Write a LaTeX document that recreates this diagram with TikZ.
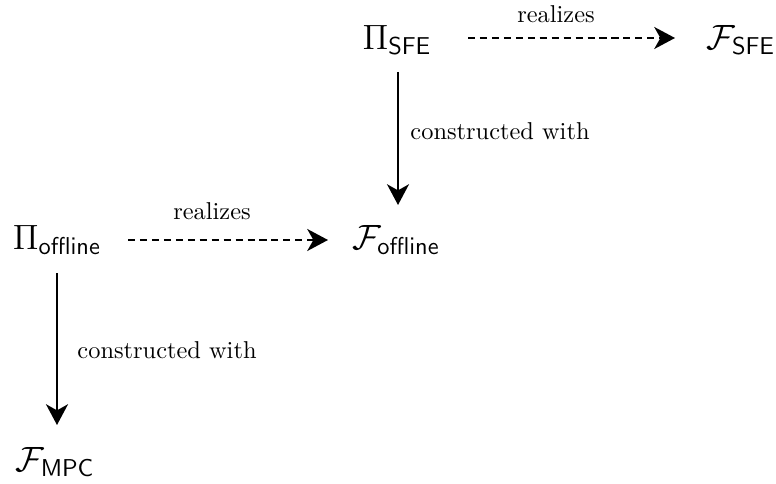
\documentclass[tikz,border=0pt]{standalone}
\usetikzlibrary{arrows.meta}
\begin{document}
\begin{tikzpicture}[x=0.41pt,y=-0.41pt,
  obj/.style={inner sep=0pt, font=\Large},
  lbl/.style={inner sep=0pt, font=\normalsize},
  conn/.style={line width=0.95pt, -{Stealth[length=8.5pt,width=9pt,inset=2.5pt]}},
  dconn/.style={conn, dash pattern=on 2.9pt off 2pt}]
\useasboundingbox (0,0) rectangle (776,483);
\node[obj] (psfe) at (397,40) {$\Pi_{\mathsf{SFE}}$};
\node[obj] (fsfe) at (741,40) {$\mathcal{F}_{\mathsf{SFE}}$};
\node[obj] (poff) at (57,240) {$\Pi_{\mathsf{offline}}$};
\node[obj] (foff) at (396,240) {$\mathcal{F}_{\mathsf{offline}}$};
\node[obj] (fmpc) at (55,462) {$\mathcal{F}_{\mathsf{MPC}}$};
\coordinate (a1s) at (468,38); \coordinate (a1e) at (675,38);
\draw[dconn] (a1s) -- (a1e);
\node[lbl] (r1) at (556,14) {realizes};
\coordinate (a2s) at (398,72); \coordinate (a2e) at (398,205);
\draw[conn] (a2s) -- (a2e);
\node[lbl, anchor=west] (c1) at (410,131) {constructed with};
\coordinate (a3s) at (128,240); \coordinate (a3e) at (328,240);
\draw[dconn] (a3s) -- (a3e);
\node[lbl] (r2) at (212,211) {realizes};
\coordinate (a4s) at (57,273); \coordinate (a4e) at (57,425);
\draw[conn] (a4s) -- (a4e);
\node[lbl, anchor=west] (c2) at (77,350) {constructed with};
\end{tikzpicture}
\end{document}
